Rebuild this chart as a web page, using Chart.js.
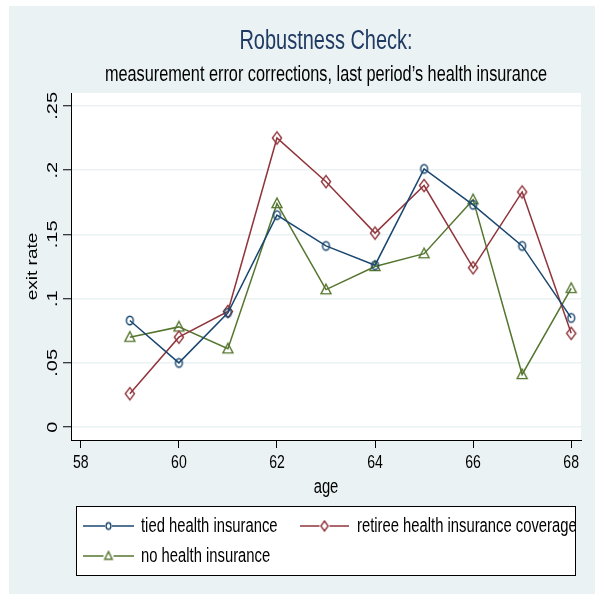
<!DOCTYPE html>
<html lang="en">
  <head>
    <meta charset="utf-8" />
    <title>Robustness Check</title>
    <script src="https://cdn.jsdelivr.net/npm/chart.js"></script>
    <style>
      html, body { margin: 0; padding: 0; background: #fff; }
      #wrap { width: 597px; height: 598px; }
    </style>
  </head>
  <body>
    <div id="wrap"><canvas id="exitChart" width="597" height="598"></canvas></div>

    <script>
      // values
      const ages = [59, 60, 61, 62, 63, 64, 65, 66, 67, 68];
      const tiedInsurance = [0.083, 0.050, 0.089, 0.165, 0.141, 0.126, 0.201, 0.173, 0.141, 0.085];
      const retireeCoverage = [0.026, 0.070, 0.090, 0.225, 0.191, 0.151, 0.188, 0.124, 0.183, 0.073];
      const noInsurance = [0.070, 0.078, 0.061, 0.174, 0.107, 0.125, 0.135, 0.177, 0.041, 0.108];

      const xTicks = [58, 60, 62, 64, 66, 68];
      const xTickLabels = ['58', '60', '62', '64', '66', '68'];
      const yTicks = [0, 0.05, 0.1, 0.15, 0.2, 0.25];
      const yTickLabels = ['0', '.05', '.1', '.15', '.2', '.25'];

      const FONT = "'Liberation Sans', Arial, sans-serif";
      const BG = '#eaf2f3';
      const SQUEEZE = 0.74; // the original picture is squashed sideways

      // text drawn with the same sideways squash as the reference
      function squeezed(ctx, text, x, y, size, opts) {
        const o = opts || {};
        ctx.save();
        ctx.translate(x, y);
        ctx.scale(SQUEEZE, 1);
        if (o.rotate) ctx.rotate(-Math.PI / 2);
        ctx.font = size + 'px ' + FONT;
        ctx.textAlign = o.align || 'center';
        ctx.textBaseline = 'middle';
        ctx.fillStyle = o.color || '#000';
        ctx.fillText(text, 0, 0);
        ctx.restore();
      }

      // hollow marker images (slightly taller than wide, like the reference)
      function marker(shape, color, rx, ry) {
        const c = document.createElement('canvas');
        c.width = Math.ceil(rx * 2 + 4);
        c.height = Math.ceil(ry * 2 + 4);
        const g = c.getContext('2d');
        const cx = c.width / 2, cy = c.height / 2;
        g.strokeStyle = color;
        g.lineWidth = 1.4;
        g.beginPath();
        if (shape === 'circle') {
          g.ellipse(cx, cy, rx, ry, 0, 0, Math.PI * 2);
        } else if (shape === 'diamond') {
          g.moveTo(cx, cy - ry);
          g.lineTo(cx + rx, cy);
          g.lineTo(cx, cy + ry);
          g.lineTo(cx - rx, cy);
          g.closePath();
        } else {
          g.moveTo(cx, cy - ry);
          g.lineTo(cx + rx, cy + ry * 0.75);
          g.lineTo(cx - rx, cy + ry * 0.75);
          g.closePath();
        }
        g.stroke();
        return c;
      }

      function toPoints(values) {
        return ages.map((a, i) => ({ x: a, y: values[i] }));
      }

      function series(label, values, color, shape, big, small) {
        return {
          label: label,
          data: toPoints(values),
          borderColor: color,
          borderWidth: 1.5,
          pointStyle: marker(shape, color, big[0], big[1]),
          legendMarker: marker(shape, color, small[0], small[1]),
          pointRadius: 5,
          tension: 0
        };
      }

      // background panels, white plot region
      const backdrop = {
        id: 'backdrop',
        beforeDraw(chart) {
          const { ctx, chartArea } = chart;
          ctx.save();
          ctx.fillStyle = '#fff';
          ctx.fillRect(0, 0, chart.width, chart.height);
          ctx.fillStyle = BG;
          ctx.fillRect(9, 6, 586, 588);
          ctx.fillStyle = '#fff';
          ctx.fillRect(chartArea.left, chartArea.top, chartArea.right - chartArea.left, chartArea.bottom - chartArea.top);
          ctx.restore();
        }
      };

      // titles, axis titles and tick labels
      const texts = {
        id: 'texts',
        afterDraw(chart) {
          const { ctx, chartArea, scales } = chart;
          const cx = (chartArea.left + chartArea.right) / 2;
          const cy = (chartArea.top + chartArea.bottom) / 2;
          squeezed(ctx, 'Robustness Check:', cx, 42, 27, { color: '#1f3a63' });
          squeezed(ctx, 'measurement error corrections, last period\u2019s health insurance', cx, 75, 22);

          xTicks.forEach((v, i) => {
            squeezed(ctx, xTickLabels[i], scales.x.getPixelForValue(v), 463, 19);
          });
          yTicks.forEach((v, i) => {
            squeezed(ctx, yTickLabels[i], 53, scales.y.getPixelForValue(v), 20, { rotate: true });
          });

          squeezed(ctx, 'age', cx, 487, 20);
          squeezed(ctx, 'exit rate', 33, cy, 19, { rotate: true });
        }
      };

      // Stata style legend box under the plot
      const boxLegend = {
        id: 'boxLegend',
        afterDraw(chart) {
          const { ctx } = chart;
          // [line start, line end, text start, row]
          const slots = [[83, 134, 141, 526], [300, 349, 357, 526], [83, 134, 141, 556]];
          ctx.save();
          ctx.fillStyle = '#fff';
          ctx.fillRect(76.5, 506.5, 499, 69);
          ctx.strokeStyle = '#000';
          ctx.lineWidth = 1;
          ctx.strokeRect(76.5, 506.5, 499, 69);
          chart.data.datasets.forEach((ds, i) => {
            const [x0, x1, tx, y] = slots[i];
            ctx.strokeStyle = ds.borderColor;
            ctx.lineWidth = 1.5;
            ctx.beginPath();
            ctx.moveTo(x0, y);
            ctx.lineTo(x1, y);
            ctx.stroke();
            const m = ds.legendMarker;
            ctx.fillStyle = '#fff';
            ctx.fillRect((x0 + x1) / 2 - m.width / 2 + 1, y - m.height / 2 + 1, m.width - 2, m.height - 2);
            ctx.drawImage(m, (x0 + x1) / 2 - m.width / 2, y - m.height / 2);
            squeezed(ctx, ds.label, tx, y, 20, { align: 'left' });
          });
          ctx.restore();
        }
      };

      new Chart(document.getElementById('exitChart'), {
        type: 'line',
        data: {
          datasets: [
            series('tied health insurance', tiedInsurance, '#1a476f', 'circle', [3.4, 4.3], [2.4, 3.2]),
            series('retiree health insurance coverage', retireeCoverage, '#90353b', 'diamond', [4.6, 6.2], [3.6, 5]),
            series('no health insurance', noInsurance, '#55752f', 'triangle', [5, 5.5], [3.8, 4.4])
          ]
        },
        options: {
          responsive: false,
          animation: false,
          devicePixelRatio: 1,
          layout: { padding: { left: 0, top: 93, right: 16, bottom: 100 } },
          plugins: {
            legend: { display: false },
            tooltip: { enabled: false }
          },
          scales: {
            x: {
              type: 'linear',
              min: 57.8,
              max: 68.2,
              afterBuildTicks(scale) { scale.ticks = xTicks.map(v => ({ value: v })); },
              afterFit(scale) { scale.height = 58; },
              grid: { drawOnChartArea: false, tickLength: 8, tickColor: '#000', tickWidth: 1 },
              border: { color: '#000', width: 1 },
              ticks: { display: false }
            },
            y: {
              min: -0.01,
              max: 0.26,
              afterBuildTicks(scale) { scale.ticks = yTicks.map(v => ({ value: v })); },
              afterFit(scale) { scale.width = 71; },
              grid: { color: BG, lineWidth: 1.5, tickLength: 8, tickColor: '#000', tickWidth: 1 },
              border: { color: '#000', width: 1 },
              ticks: { display: false }
            }
          }
        },
        plugins: [backdrop, texts, boxLegend]
      });
    </script>
  </body>
</html>
